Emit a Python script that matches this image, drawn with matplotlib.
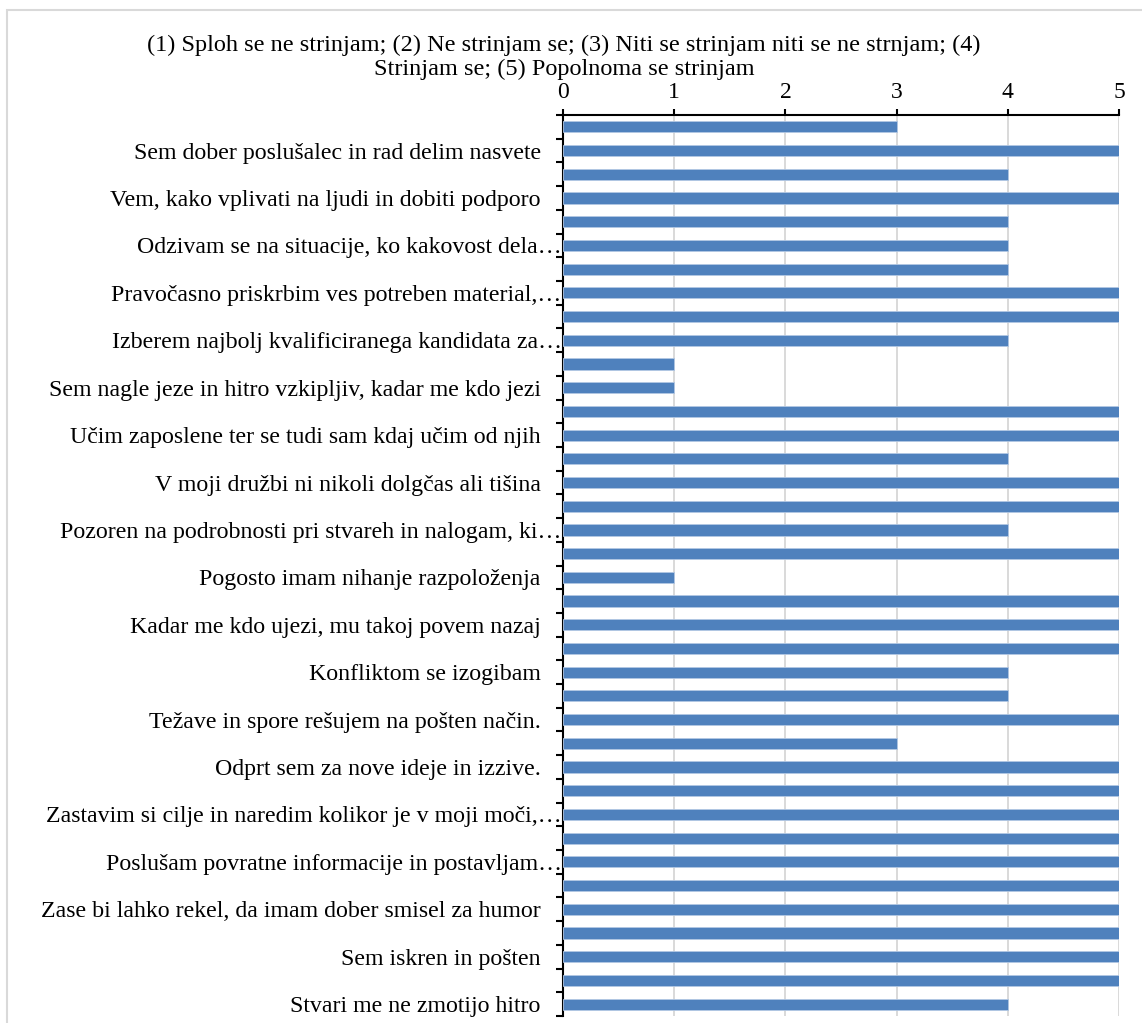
import matplotlib
matplotlib.use("Agg")
import matplotlib.pyplot as plt
import numpy as np
from matplotlib.patches import Rectangle

plt.rcParams['font.family'] = ['Liberation Serif', 'DejaVu Serif']

title_text = ("(1) Sploh se ne strinjam; (2) Ne strinjam se; (3) Niti se strinjam niti se ne strnjam; (4)\n"
              "Strinjam se; (5) Popolnoma se strinjam")

# values, top to bottom
values = [3, 5, 4, 5, 4, 4, 4, 5, 5, 4, 1, 1, 5, 5, 4, 5, 5, 4, 5, 1,
          5, 5, 5, 4, 4, 5, 3, 5, 5, 5, 5, 5, 5, 5, 5, 5, 5, 4]

# labels shown on every other category (2nd, 4th, ... from top)
shown_labels = [
    "Sem dober poslušalec in rad delim nasvete",
    "Vem, kako vplivati na ljudi in dobiti podporo",
    "Odzivam se na situacije, ko kakovost dela…",
    "Pravočasno priskrbim ves potreben material,…",
    "Izberem najbolj kvalificiranega kandidata za…",
    "Sem nagle jeze in hitro vzkipljiv, kadar me kdo jezi",
    "Učim zaposlene ter se tudi sam kdaj učim od njih",
    "V moji družbi ni nikoli dolgčas ali tišina",
    "Pozoren na podrobnosti pri stvareh in nalogam, ki…",
    "Pogosto imam nihanje razpoloženja",
    "Kadar me kdo ujezi, mu takoj povem nazaj",
    "Konfliktom se izogibam",
    "Težave in spore rešujem na pošten način.",
    "Odprt sem za nove ideje in izzive.",
    "Zastavim si cilje in naredim kolikor je v moji moči,…",
    "Poslušam povratne informacije in postavljam…",
    "Zase bi lahko rekel, da imam dober smisel za humor",
    "Sem iskren in pošten",
    "Stvari me ne zmotijo hitro",
]
x_ticks = [0, 1, 2, 3, 4, 5]

W, H = 1142, 1023
fig = plt.figure(figsize=(W / 100, H / 100), dpi=100)
fig.patch.set_facecolor('white')

left, right, top, bottom = 563, 1119, 115, 1016
ax = fig.add_axes([left / W, 1 - bottom / H, (right - left) / W, (bottom - top) / H])

n = len(values)
pos = np.arange(n)
ax.barh(pos, values, height=0.47, color='#4F81BD', edgecolor='#B3C8E4', linewidth=0.6, zorder=3)

ax.set_ylim(n - 0.5, -0.5)
ax.set_xlim(0, 5)

# x axis on top
ax.xaxis.tick_top()
ax.set_xticks(x_ticks)
ax.set_xticklabels([str(t) for t in x_ticks], fontsize=17)
ax.tick_params(axis='x', which='major', direction='out', length=4, width=1.5, color='black', pad=5.0)
ax.grid(axis='x', color='#D9D9D9', linewidth=1.4, zorder=0)
ax.set_axisbelow(True)

# y axis: labels on every other category, tick marks at category boundaries
label_pos = pos[1::2]
ax.set_yticks(label_pos)
ax.set_yticklabels(shown_labels, fontsize=17.2)
ax.set_yticks(np.arange(-0.5, n, 1.0), minor=True)
ax.tick_params(axis='y', which='major', length=0)
ax.tick_params(axis='y', which='minor', direction='out', length=5, width=1.5, color='black')
for tk, lab in zip(ax.yaxis.get_major_ticks(), shown_labels):
    tk.set_pad(1.0 if lab.endswith('…') else 16)

for s in ['right', 'bottom']:
    ax.spines[s].set_visible(False)
for s in ['top', 'left']:
    ax.spines[s].set_color('black')
    ax.spines[s].set_linewidth(1.5)

fig.text(564 / W, 1 - 57 / H, title_text, ha='center', va='center', fontsize=17.5, linespacing=1.18)

# outer chart border
fig.patches.append(Rectangle((7 / W, -0.1), 1.2, 1 - 10 / H + 0.1, transform=fig.transFigure,
                             facecolor='none', edgecolor='#D9D9D9', linewidth=1.5, zorder=0))

fig.savefig('out.png', dpi=100)
